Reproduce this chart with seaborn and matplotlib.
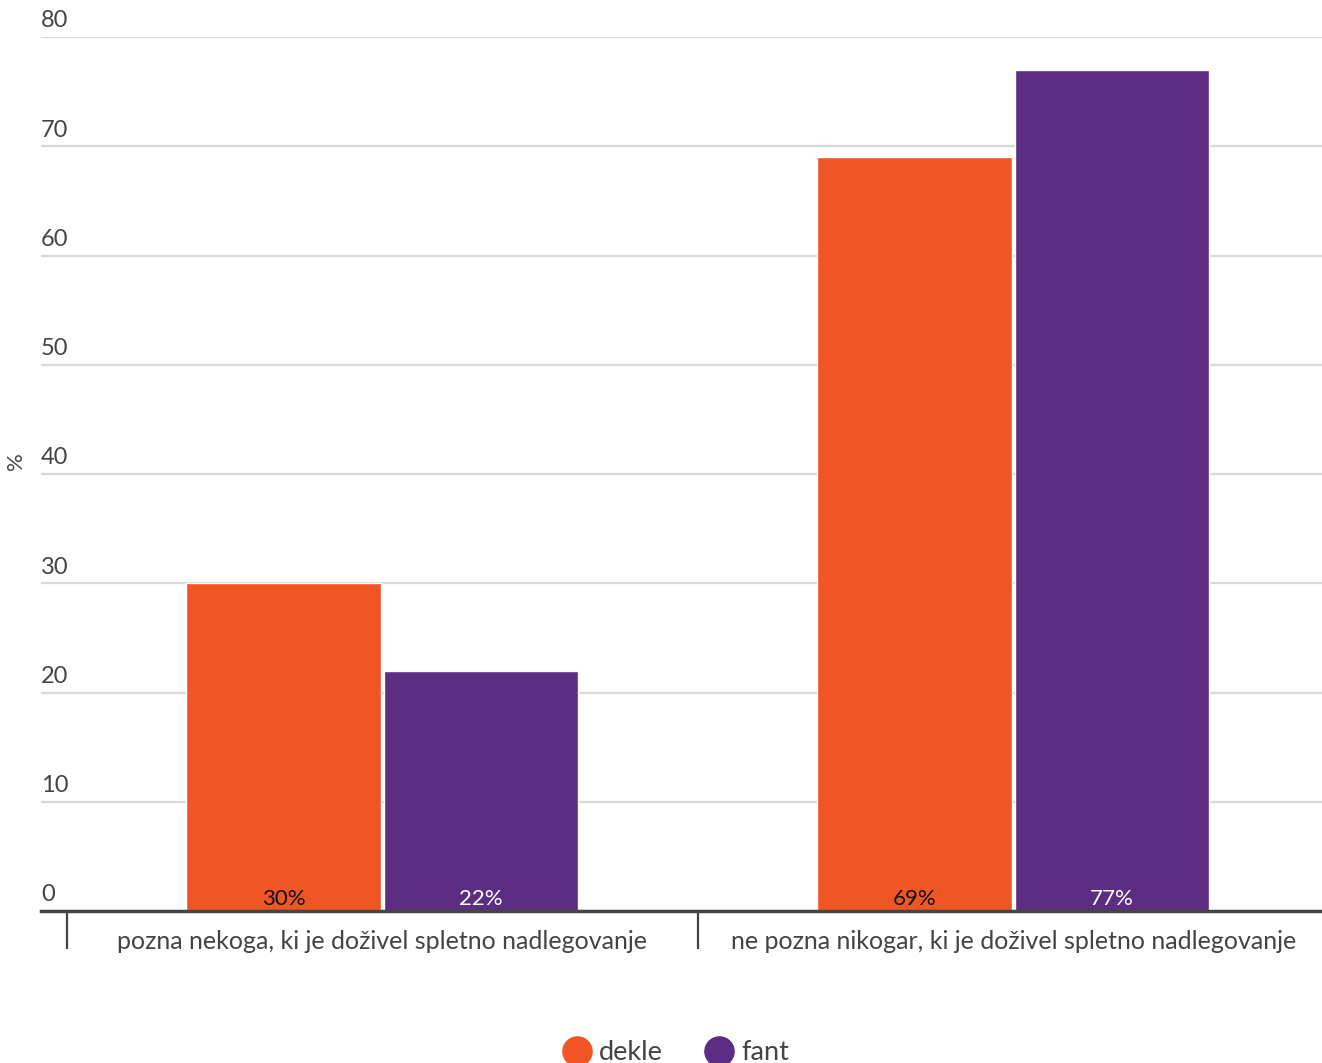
import pandas as pd
import matplotlib
matplotlib.use("Agg")
import matplotlib.pyplot as plt
import matplotlib.transforms as mtransforms
from matplotlib.lines import Line2D
import seaborn as sns

# Data
categories = ["pozna nekoga, ki je doživel spletno nadlegovanje",
              "ne pozna nikogar, ki je doživel spletno nadlegovanje"]
groups = ["dekle", "fant"]
dekle = [30, 69]
fant = [22, 77]
yticks = [0, 10, 20, 30, 40, 50, 60, 70, 80]

colors = {"dekle": "#F05624", "fant": "#5C2D82"}
label_colors = {"dekle": "#111111", "fant": "#FFFFFF"}

df = pd.DataFrame({
    "kategorija": categories * 2,
    "spol": ["dekle"] * len(categories) + ["fant"] * len(categories),
    "odstotek": dekle + fant,
})

sns.set_style("white")
plt.rcParams["font.family"] = ["Lato", "DejaVu Sans"]
text_color = "#444444"

fig = plt.figure(figsize=(13.22, 10.63), dpi=100)
ax = fig.add_axes([41 / 1322, (1063 - 911) / 1063, 1 - 41 / 1322, (911 - 37) / 1063])

sns.barplot(data=df, x="kategorija", y="odstotek", hue="spol", hue_order=groups,
            order=categories, palette=colors, width=0.625, gap=0.012,
            saturation=1, ax=ax, legend=False)

ax.set_xlim(-0.541, 1.489)
ax.set_ylim(0, 80)
ax.set_yticks(yticks)
ax.grid(axis="y", color="#d9d9d9", linewidth=1.6)
ax.set_axisbelow(True)
for s in ["top", "right", "left"]:
    ax.spines[s].set_visible(False)
ax.spines["bottom"].set_color(text_color)
ax.spines["bottom"].set_linewidth(2.5)

# y tick labels sit on top of the gridlines, left aligned
ax.tick_params(axis="y", length=0, pad=0, labelsize=17, labelcolor=text_color)
offset = mtransforms.ScaledTranslation(0, 4 / 72, fig.dpi_scale_trans)
for lbl in ax.get_yticklabels():
    lbl.set_horizontalalignment("left")
    lbl.set_verticalalignment("bottom")
    lbl.set_transform(lbl.get_transform() + offset)

# category separators
ax.set_xticks([-0.5, 0.5], minor=True)
ax.tick_params(axis="x", which="major", bottom=False, length=0, pad=14,
               labelsize=18, labelcolor=text_color)
ax.tick_params(axis="x", which="minor", bottom=True, length=27, width=1.6,
               color=text_color, direction="out")

ax.set_xlabel("")
ax.set_ylabel("%", fontsize=16, color=text_color)
ax.yaxis.set_label_coords(-0.012, 0.515)

# value labels at the bottom of each bar
for cont, g in zip(ax.containers, groups):
    for bar in cont:
        ax.text(bar.get_x() + bar.get_width() / 2, 0.55, f"{bar.get_height():.0f}%",
                ha="center", va="baseline", fontsize=16, color=label_colors[g])

handles = [Line2D([], [], marker="o", linestyle="", markersize=21,
                  markerfacecolor=colors[g], markeredgecolor=colors[g]) for g in groups]
fig.legend(handles, groups, loc="center", bbox_to_anchor=(0.5115, 10 / 1063), ncol=2,
           frameon=False, fontsize=19.5, labelcolor=text_color, handlelength=1.0,
           handletextpad=0.3, columnspacing=1.6)

fig.savefig("out.png", dpi=100)
